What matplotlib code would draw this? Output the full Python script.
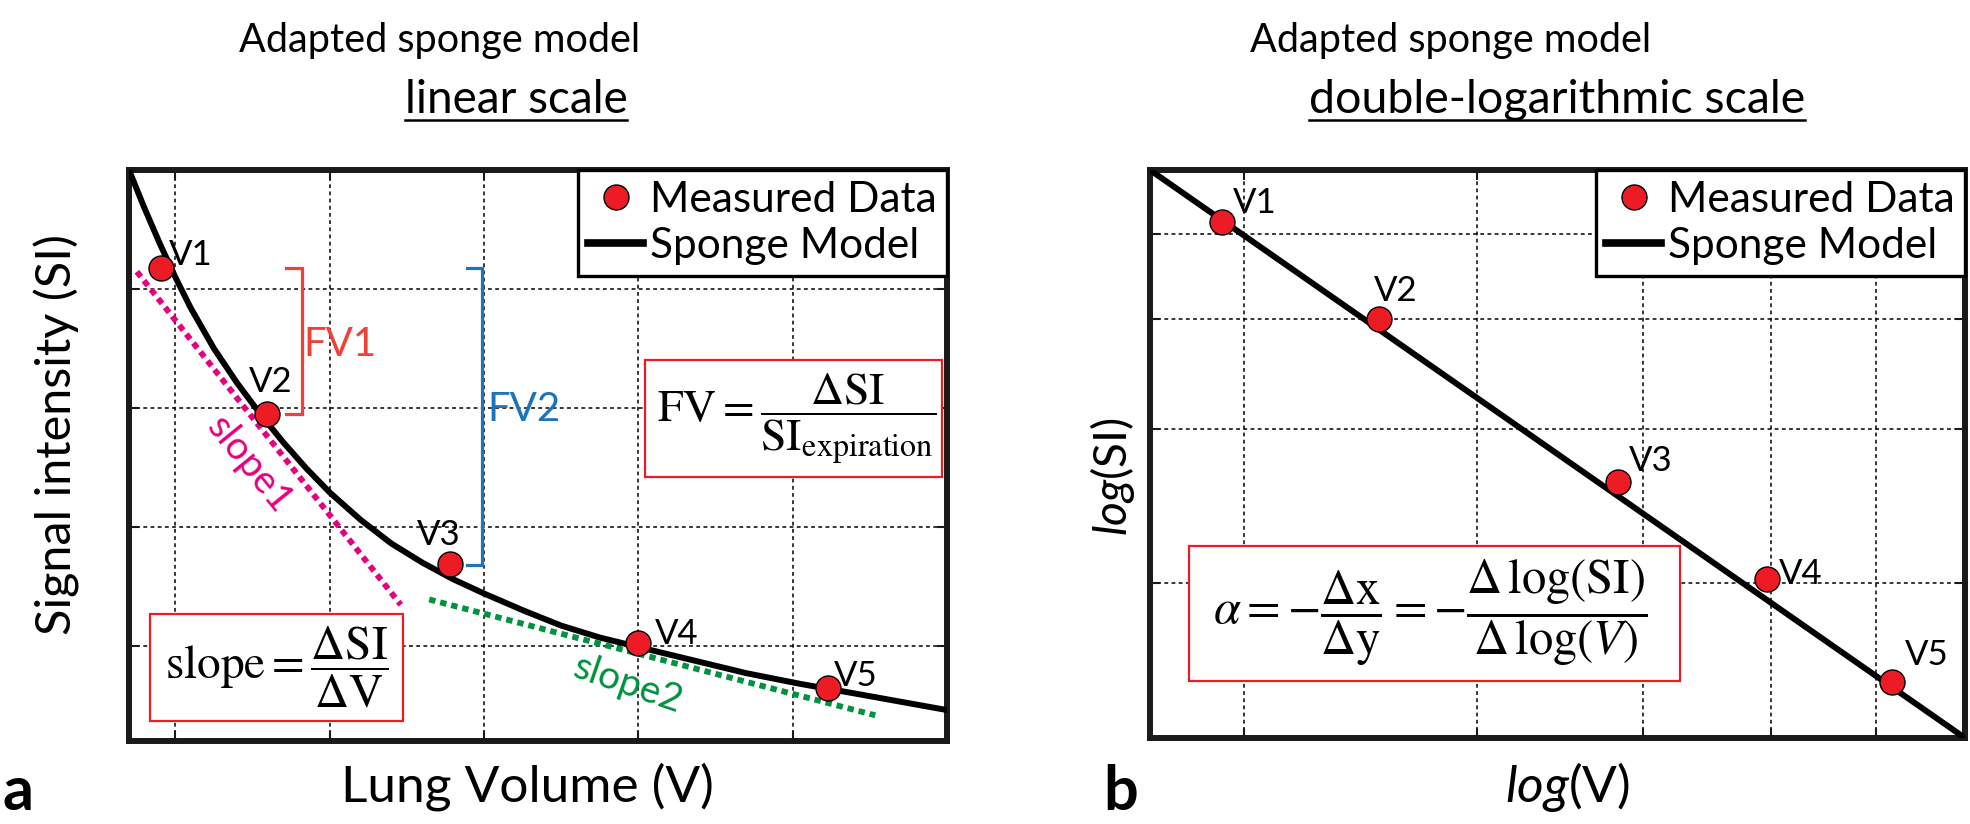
import matplotlib
matplotlib.use('Agg')
import matplotlib.pyplot as plt
from matplotlib import font_manager
from matplotlib.lines import Line2D
from matplotlib.patches import Rectangle
from matplotlib.ticker import FixedLocator, NullLocator, NullFormatter

# ---------------- data ----------------
# panel a : linear scale
lin_v = [0.907, 1.595, 2.78, 4.0, 5.23]
lin_si = [4.18, 2.95, 1.69, 1.02, 0.645]
curve_v = [0.70, 0.80, 0.90, 1.00, 1.10, 1.25, 1.40, 1.55, 1.70, 1.85, 2.00, 2.20,
           2.40, 2.60, 2.80, 3.00, 3.25, 3.50, 3.75, 4.00, 4.35, 4.70, 5.05, 5.40,
           5.70, 6.00]
curve_si = [5.00, 4.68, 4.38, 4.10, 3.84, 3.50, 3.21, 2.95, 2.71, 2.49, 2.29, 2.06,
            1.86, 1.70, 1.56, 1.44, 1.30, 1.17, 1.07, 0.99, 0.88, 0.77, 0.68, 0.60,
            0.53, 0.46]
slope1_v = [0.751, 2.461]
slope1_si = [4.145, 1.345]
slope2_v = [2.645, 5.535]
slope2_si = [1.39, 0.416]
fv1_v = [1.714, 1.82, 1.82, 1.714]
fv1_si = [4.18, 4.18, 2.95, 2.95]
fv2_v = [2.887, 2.99, 2.99, 2.887]
fv2_si = [4.18, 4.18, 1.68, 1.68]
lin_xticks = [1, 2, 3, 4, 5]
lin_yticks = [1, 2, 3, 4]

# panel b : double logarithmic scale
log_v = [1.925, 2.53, 3.83, 4.96, 6.17]
log_si = [5.16, 4.00, 2.61, 2.02, 1.54]
model_v = [1.70, 7.0]
model_si = [5.92, 1.33]
log_xticks = [2, 3, 4, 5, 6]
log_yticks = [2, 3, 4, 5]

point_labels = ['V1', 'V2', 'V3', 'V4', 'V5']

# ---------------- style ----------------
names = {f.name for f in font_manager.fontManager.ttflist}
SANS = 'Lato' if 'Lato' in names else 'DejaVu Sans'
plt.rcParams['font.family'] = [SANS, 'DejaVu Sans']
plt.rcParams['mathtext.fontset'] = 'custom'
plt.rcParams['mathtext.rm'] = SANS
plt.rcParams['mathtext.it'] = SANS + ':italic'
plt.rcParams['mathtext.bf'] = SANS + ':bold'

RED = '#ed1c24'
MAGENTA = '#e6007e'
GREEN = '#00923f'
ORANGE = '#ef4136'
BLUE = '#1c75bc'
INK = '#1a1a1a'

W, H = 1970, 824
fig = plt.figure(figsize=(W / 100, H / 100), dpi=100)


def fx(px):
    return px / W


def fy(py):
    return 1 - py / H


axL = fig.add_axes([fx(129), fy(741), (947 - 129) / W, (741 - 170) / H])
axR = fig.add_axes([fx(1150), fy(738), (1965 - 1150) / W, (738 - 170) / H])


def style(ax):
    for s in ax.spines.values():
        s.set_linewidth(4.3)
        s.set_color(INK)
    ax.tick_params(which='both', direction='in', top=True, right=True,
                   labelleft=False, labelbottom=False, length=7, width=1.5,
                   color=INK)
    ax.grid(True, which='major', color='black', linestyle=(0, (2.5, 2.2)),
            linewidth=1.1)
    ax.set_axisbelow(True)


# ---------------- panel a ----------------
axL.set_xlim(0.7, 6.0)
axL.set_ylim(0.2, 5.0)
axL.set_xticks(lin_xticks)
axL.set_yticks(lin_yticks)
style(axL)

axL.plot(slope1_v, slope1_si, color=MAGENTA, lw=4.2, linestyle=(0, (1.1, 0.85)),
         dash_capstyle='butt', zorder=3)
axL.plot(slope2_v, slope2_si, color=GREEN, lw=4.2, linestyle=(0, (1.1, 0.85)),
         dash_capstyle='butt', zorder=3)
axL.plot(curve_v, curve_si, color='black', lw=4.3, solid_joinstyle='round',
         solid_capstyle='round', zorder=4)
axL.plot(lin_v, lin_si, 'o', ms=18, mfc=RED, mec='black', mew=1.0, zorder=5)
axL.plot(fv1_v, fv1_si, color=ORANGE, lw=2.3, solid_joinstyle='miter', zorder=3)
axL.plot(fv2_v, fv2_si, color=BLUE, lw=2.3, solid_joinstyle='miter', zorder=3)

axL.text(2.07, 3.53, 'FV1', color=ORANGE, fontsize=29, ha='center', va='center')
axL.text(3.26, 2.99, 'FV2', color=BLUE, fontsize=29, ha='center', va='center')
axL.text(1.48, 2.52, 'slope1', color=MAGENTA, fontsize=28, ha='center',
         va='center', rotation=-51, rotation_mode='anchor')
axL.text(3.93, 0.68, 'slope2', color=GREEN, fontsize=28, ha='center',
         va='center', rotation=-19, rotation_mode='anchor')

lin_offsets = [(30, 13), (4, 32), (-11, 29), (38, 9), (28, 12)]
for v, s, lab, off in zip(lin_v, lin_si, point_labels, lin_offsets):
    axL.annotate(lab, (v, s), xytext=off, textcoords='offset pixels',
                 fontsize=25, ha='center', va='center', zorder=6)

# formula boxes
axL.add_patch(Rectangle((0.026, 0.035), 0.335 - 0.026, 0.223 - 0.035,
                        transform=axL.transAxes, facecolor='white',
                        edgecolor=RED, lw=1.6, zorder=6))
axL.text((0.026 + 0.335) / 2, (0.035 + 0.223) / 2,
         r'$\mathrm{slope} = \dfrac{\Delta\mathrm{SI}}{\Delta\mathrm{V}}$',
         transform=axL.transAxes, ha='center', va='center', fontsize=34,
         math_fontfamily='stix', zorder=7)
axL.add_patch(Rectangle((0.631, 0.462), 0.994 - 0.631, 0.667 - 0.462,
                        transform=axL.transAxes, facecolor='white',
                        edgecolor=RED, lw=1.6, zorder=6))
axL.text((0.631 + 0.994) / 2 + 0.004, (0.462 + 0.667) / 2,
         r'$\mathrm{FV} = \dfrac{\Delta\mathrm{SI}}{\mathrm{SI}_{\mathrm{expiration}}}$',
         transform=axL.transAxes, ha='center', va='center', fontsize=33,
         math_fontfamily='stix', zorder=7)

# legend
h_pt = Line2D([], [], marker='o', linestyle='none', ms=18, mfc=RED,
              mec='black', mew=1.0)
h_ln = Line2D([], [], color='black', lw=5.5)
for ax in (axL, axR):
    leg = ax.legend([h_pt, h_ln], ['Measured Data', 'Sponge Model'],
                    loc='upper right', bbox_to_anchor=(1, 1), borderaxespad=0,
                    fontsize=30.5, frameon=True, fancybox=False,
                    edgecolor='black', framealpha=1, handlelength=1.3,
                    handletextpad=0.15, borderpad=0.25, labelspacing=0.2)
    leg.get_frame().set_linewidth(2.4)
    leg.set_zorder(8)

axL.set_xlabel('Lung Volume (V)', fontsize=37)
axL.xaxis.set_label_coords(0.4866, -0.0806)
axL.xaxis.label.set_va('center')
axL.set_ylabel('Signal intensity (SI)', fontsize=35)
axL.yaxis.set_label_coords(-0.088, 0.536)
axL.yaxis.label.set_va('center')

# ---------------- panel b ----------------
axR.set_xscale('log')
axR.set_yscale('log')
axR.set_xlim(1.70, 7.0)
axR.set_ylim(1.33, 5.92)
for axis, ticks in ((axR.xaxis, log_xticks), (axR.yaxis, log_yticks)):
    axis.set_major_locator(FixedLocator(ticks))
    axis.set_minor_locator(NullLocator())
    axis.set_major_formatter(NullFormatter())
    axis.set_minor_formatter(NullFormatter())
style(axR)

axR.plot(model_v, model_si, color='black', lw=4.3, zorder=4)
axR.plot(log_v, log_si, 'o', ms=18, mfc=RED, mec='black', mew=1.0, zorder=5)
log_offsets = [(33, 19), (17, 28), (33, 21), (34, 5), (34, 27)]
for v, s, lab, off in zip(log_v, log_si, point_labels, log_offsets):
    axR.annotate(lab, (v, s), xytext=off, textcoords='offset pixels',
                 fontsize=25, ha='center', va='center', zorder=6)

axR.add_patch(Rectangle((0.048, 0.100), 0.650 - 0.048, 0.338 - 0.100,
                        transform=axR.transAxes, facecolor='white',
                        edgecolor=RED, lw=1.6, zorder=6))
axR.text((0.048 + 0.650) / 2 - 0.005, (0.100 + 0.338) / 2,
         r'$\alpha = -\dfrac{\Delta\mathrm{x}}{\Delta\mathrm{y}} = '
         r'-\dfrac{\Delta\,\log(\mathrm{SI})}{\Delta\,\log(V)}$',
         transform=axR.transAxes, ha='center', va='center', fontsize=35,
         math_fontfamily='stix', zorder=7)

axR.set_xlabel(r'$log$(V)', fontsize=37)
axR.xaxis.set_label_coords(0.5117, -0.0863)
axR.xaxis.label.set_va('center')
axR.set_ylabel(r'$log$(SI)', fontsize=33)
axR.yaxis.set_label_coords(-0.0466, 0.4595)
axR.yaxis.label.set_va('center')

# ---------------- titles ----------------
titles = [
    (440, 52, 'Adapted sponge model', False, 28.5),
    (516, 113, 'linear scale', True, 33),
    (1451, 52, 'Adapted sponge model', False, 28.5),
    (1557, 113, 'double-logarithmic scale', True, 33.5),
]
title_artists = []
for cx, by, txt, ul, fs in titles:
    t = fig.text(fx(cx), fy(by), txt, fontsize=fs, ha='center', va='baseline')
    title_artists.append((t, by, ul))

fig.text(fx(3), fy(810), 'a', fontsize=44, fontweight='bold', ha='left',
         va='baseline')
fig.text(fx(1103), fy(810), 'b', fontsize=44, fontweight='bold', ha='left',
         va='baseline')

fig.canvas.draw()
renderer = fig.canvas.get_renderer()
for t, by, ul in title_artists:
    if not ul:
        continue
    bb = t.get_window_extent(renderer)
    yline = (H - by - 7) / H
    fig.add_artist(Line2D([bb.x0 / W, bb.x1 / W], [yline, yline],
                          transform=fig.transFigure, color='black', lw=1.8))

fig.savefig('out.png', dpi=100)
